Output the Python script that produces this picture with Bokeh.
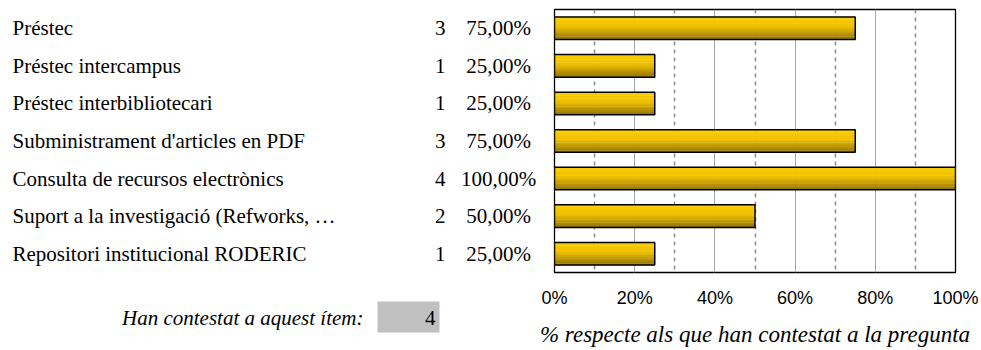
import numpy as np
from bokeh.plotting import figure
from bokeh.layouts import row
from bokeh.models import Range1d, FixedTicker, NumeralTickFormatter, ColumnDataSource
from bokeh.core.properties import value
from bokeh.embed import file_html
from bokeh.resources import INLINE

# ---- data ----
categories = [
    "Préstec",
    "Préstec intercampus",
    "Préstec interbibliotecari",
    "Subministrament d'articles en PDF",
    "Consulta de recursos electrònics",
    "Suport a la investigació (Refworks, …",
    "Repositori institucional RODERIC",
]
counts = [3, 1, 1, 3, 4, 2, 1]
percents = [75, 25, 25, 75, 100, 50, 25]
respondents = 4
tick_values = [0, 0.2, 0.4, 0.6, 0.8, 1.0]
minor_tick_values = [0.1, 0.3, 0.5, 0.7, 0.9]
axis_title = "% respecte als que han contestat a la pregunta"
answered_label = "Han contestat a aquest ítem:"

# ---- layout constants (page pixels) ----
n = len(categories)
H_TOTAL = 350
LEFT_W = 536
RIGHT_W = 981 - LEFT_W
FRAME_LEFT = 554
FRAME_TOP = 9
FRAME_BOTTOM = 272
FRAME_W = 401
row_h = (FRAME_BOTTOM - FRAME_TOP) / n

SERIF = value("Liberation Serif")

idx = np.arange(n)
yc = idx + 0.5
pct_frac = np.array(percents) / 100.0
pct_text = [f"{p:.2f}".replace(".", ",") + "%" for p in percents]
cnt_text = [str(c) for c in counts]

def page_to_row(y):
    return (y - FRAME_TOP) / row_h

# ---- left "table" figure ----
left = figure(width=LEFT_W, height=H_TOTAL, output_backend="svg", toolbar_location=None,
              x_range=Range1d(0, LEFT_W),
              y_range=Range1d(page_to_row(H_TOTAL), page_to_row(0)),
              min_border=0, outline_line_color=None)
left.frame_align = False
left.xaxis.visible = False
left.yaxis.visible = False
left.grid.visible = False

src = ColumnDataSource(dict(y=yc, cat=categories, cnt=cnt_text, pct=pct_text))
left.text(x=12, y="y", text="cat", source=src, text_font=SERIF, text_font_size="21px",
          text_baseline="middle", text_align="left", text_color="black")
left.text(x=445, y="y", text="cnt", source=src, text_font=SERIF, text_font_size="21px",
          text_baseline="middle", text_align="right", text_color="black")
left.text(x=498, y="y", text="pct", source=src, text_font=SERIF, text_font_size="21px",
          text_baseline="middle", text_align="center", text_color="black")

y_ans = page_to_row(317)
left.quad(left=377, right=439, top=[page_to_row(301)], bottom=[page_to_row(332)],
          fill_color="#C0C0C0", line_color=None)
left.text(x=[363], y=[y_ans], text=[answered_label], text_font=SERIF, text_font_size="21px",
          text_font_style="italic", text_baseline="middle", text_align="right", text_color="black")
left.text(x=[435], y=[y_ans], text=[str(respondents)], text_font=SERIF, text_font_size="21px",
          text_baseline="middle", text_align="right", text_color="black")

# ---- right bar chart ----
p = figure(width=RIGHT_W, height=H_TOTAL, output_backend="svg", toolbar_location=None,
           x_range=Range1d(0, 1), y_range=Range1d(n, 0),
           min_border_left=FRAME_LEFT - LEFT_W,
           min_border_right=RIGHT_W - FRAME_W - (FRAME_LEFT - LEFT_W),
           min_border_top=FRAME_TOP, min_border_bottom=H_TOTAL - FRAME_BOTTOM,
           outline_line_color="black", outline_line_width=1.3)
p.frame_align = False

bar_h = 0.6
N = 14
stops_t = [0.0, 0.45, 1.0]
stops_c = np.array([[252, 206, 0], [238, 192, 0], [146, 113, 0]])
for k in range(N):
    t = (k + 0.5) / N
    col = [int(np.interp(t, stops_t, stops_c[:, j])) for j in range(3)]
    color = "#%02x%02x%02x" % tuple(col)
    p.hbar(y=yc - bar_h / 2 + (k + 0.5) * bar_h / N, left=0, right=pct_frac,
           height=bar_h / N * 1.25, fill_color=color, line_color=None)
p.hbar(y=yc, left=0, right=pct_frac, height=bar_h, fill_color=None,
       line_color="black", line_width=1.5)

ax = p.xaxis[0]
ax.ticker = FixedTicker(ticks=tick_values, minor_ticks=minor_tick_values)
ax.formatter = NumeralTickFormatter(format="0%")
ax.axis_line_color = None
ax.major_tick_line_color = None
ax.minor_tick_line_color = None
ax.major_tick_out = 0
ax.major_tick_in = 0
ax.minor_tick_out = 0
ax.minor_tick_in = 0
ax.major_label_text_font = "Liberation Sans"
ax.major_label_text_font_size = "18px"
ax.major_label_text_color = "black"
ax.major_label_standoff = 15
ax.axis_label = axis_title
ax.axis_label_text_font = "Liberation Serif"
ax.axis_label_text_font_style = "italic"
ax.axis_label_text_font_size = "23px"
ax.axis_label_text_color = "black"
ax.axis_label_standoff = 11
p.yaxis.visible = False

p.xgrid.grid_line_color = "#A6A6A6"
p.xgrid.grid_line_width = 1
p.xgrid.minor_grid_line_color = "#8C8C8C"
p.xgrid.minor_grid_line_dash = "4 4"
p.xgrid.minor_grid_line_width = 1.5
p.ygrid.visible = False

layout = row(left, p, spacing=0)
open("out.html", "w").write(file_html(layout, INLINE))
